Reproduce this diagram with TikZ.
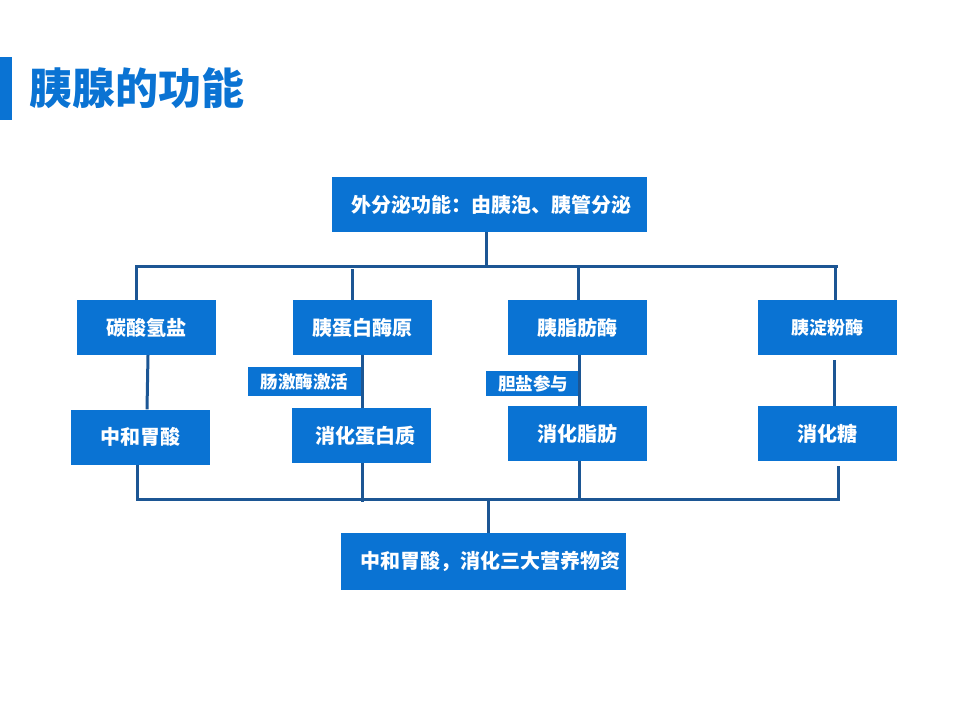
\documentclass[tikz,border=0pt]{standalone}
\usepackage{fontspec}
\usepackage{tikz}
\newfontfamily\cjk{Noto Sans CJK SC}
\definecolor{boxblue}{HTML}{0A73D3}
\definecolor{linkblue}{HTML}{1C5694}
\tikzset{box/.style={fill=boxblue,text=white,inner sep=0pt,minimum width=139pt,minimum height=55pt,font=\cjk\bfseries\fontsize{20}{20}\selectfont},
	tag/.style={box,minimum height=27pt,font=\cjk\bfseries\fontsize{17.5}{17.5}\selectfont},
	link/.style={draw=linkblue,line width=3pt}}

\begin{document}
\begin{tikzpicture}[x=1pt,y=-1pt]
			\useasboundingbox (0,0) rectangle (960,720);
			\fill[boxblue] (0,57) rectangle (12,120);
			\node[anchor=west,text=boxblue,inner sep=0pt,font=\cjk\bfseries\fontsize{43}{43}\selectfont] (title) at (29,88) {胰腺的功能};
			% top and bottom
			\node[box,minimum width=315pt] (top) at (489.5,204.5) {\hspace*{4pt}外分泌功能：由胰泡、胰管分泌};
			\node[box,minimum width=285pt,minimum height=57pt] (sum) at (483.5,561.5) {\hspace*{14pt}中和胃酸，消化三大营养物资};
			% enzymes
			\node[box] (c1) at (146,327.5) {碳酸氢盐};
			\node[box] (c2) at (362,327.5) {胰蛋白酶原};
			\node[box] (c3) at (577,327.5) {胰脂肪酶};
			\node[box,font=\cjk\bfseries\fontsize{18}{18}\selectfont] (c4) at (827.5,327.5) {胰淀粉酶};
			% effects
			\node[box] (d1) at (140,437) {中和胃酸};
			\node[box] (d2) at (361,435.5) {\hspace*{8pt}消化蛋白质};
			\node[box] (d3) at (577.5,433.5) {消化脂肪};
			\node[box] (d4) at (827.5,433.5) {消化糖};
			\node[tag,minimum width=113pt,minimum height=29pt] (t1) at (304.5,381.5) {肠激酶激活};
			\node[tag,minimum width=94pt,minimum height=25pt] (t2) at (533,383.5) {胆盐参与};
			% upper bus
			\coordinate (ua) at (136,266);
			\coordinate (ub) at (836,266);
			\draw[link] (top.south -| 486,0) -- (486,266);
			\draw[link,line cap=rect] (ua) -- (ub);
			\draw[link] (ua) -- (c1.north -| ua);
			\draw[link] (352,269) -- (c2.north -| 352,0);
			\draw[link] (578,266) -- (c3.north -| 578,0);
			\draw[link] (835,266) -- (c4.north -| 835,0);
			% enzyme to effect
			\draw[link] (c1.south -| 148,0) -- (d1.north -| 147,0);
			\draw[link] (c2.south -| 362,0) -- (d2.north -| 362,0);
			\draw[link] (c3.south -| 579,0) -- (d3.north -| 579,0);
			\draw[link] (c4.south -| 834,0) ++(0,5) -- (d4.north -| 834,0);
			% lower bus
			\coordinate (la) at (137,499);
			\coordinate (lb) at (838,499);
			\draw[link,line cap=rect] (la) -- (lb);
			\draw[link] (d1.south -| la) -- (la);
			\draw[link] (d2.south -| 362,0) -- (362,502);
			\draw[link] (d3.south -| 579,0) -- (579,499);
			\draw[link] (d4.south -| lb) ++(0,5) -- (lb);
			\draw[link] (488,499) -- (sum.north -| 488,0);
		\end{tikzpicture}
\end{document}
